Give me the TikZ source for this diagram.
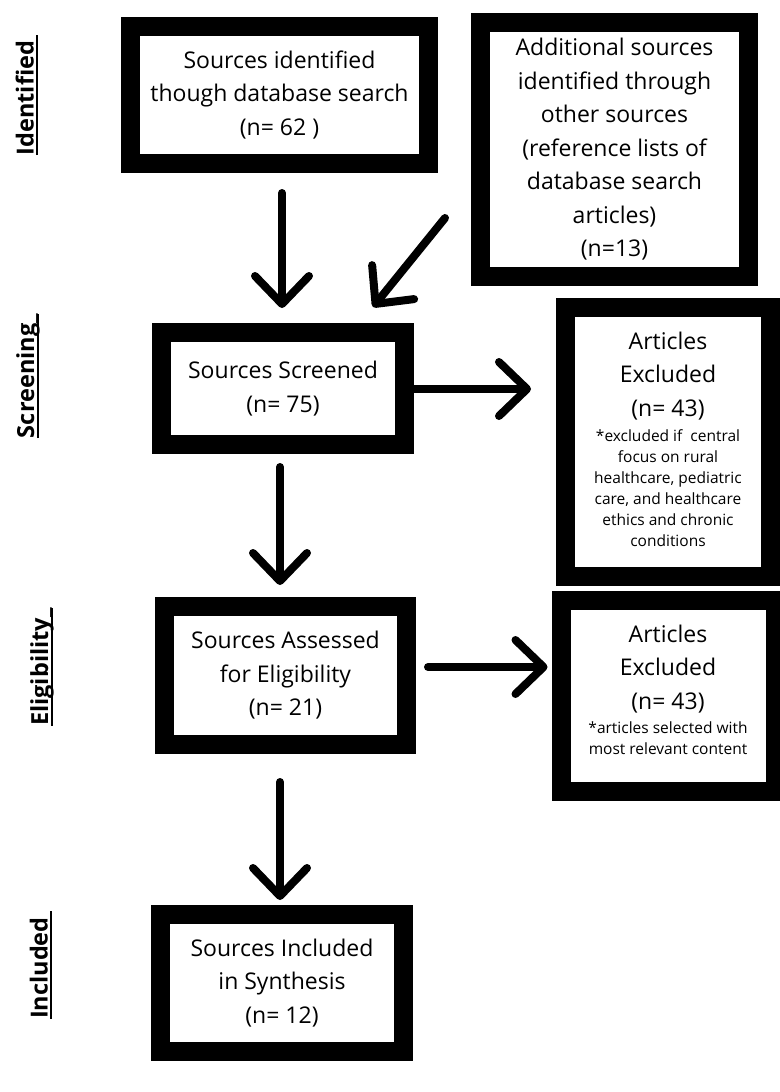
\documentclass[tikz,border=0pt]{standalone}
\usepackage{fontspec}
\setmainfont{Open Sans}
\usetikzlibrary{arrows.meta}
\newcommand\labul[1]{\setbox0\hbox{#1}\rlap{\rule[-4.5pt]{\wd0}{1.8pt}}\box0}
\begin{document}
\begin{tikzpicture}[x=1pt,y=-1pt,
  box/.style={draw=black, fill=white, line width=19pt, inner sep=0pt, outer sep=9.5pt, align=center, font=\fontsize{23}{33.5}\selectfont},
  arr/.style={line width=8pt, line cap=round, -{Straight Barb[length=28pt,width=54pt,round]}},
  maintext/.style={align=center, font=\fontsize{23}{33.5}\selectfont, inner sep=0pt},
  notetext/.style={align=center, font=\fontsize{15.5}{21}\selectfont, inner sep=0pt},
  lab/.style={rotate=90, font=\fontsize{23.5}{27}\selectfont\bfseries, inner sep=0pt}]
\useasboundingbox (0,0) rectangle (779,1092);
% boxes
\node[box, minimum width=298pt, minimum height=137pt] (b1) at (279.5,95) {Sources identified\\though database search\\(n= 62 )};
\node[box, minimum width=268pt, minimum height=254pt] (b2) at (614.5,149.5) {Additional sources\\identified through\\other sources\\(reference lists of\\database search\\articles)\\(n=13)};
\node[box, minimum width=243pt, minimum height=112pt] (b3) at (283,388.5) {Sources Screened\\(n= 75)};
\node[box, minimum width=205pt, minimum height=269pt] (b4) at (668,442) {};
\node[maintext] (t4) at (668,376) {Articles\\Excluded\\(n= 43)};
\node[notetext] (n4) at (668,488) {*excluded if\ \ central\\focus on rural\\healthcare, pediatric\\care, and healthcare\\ethics and chronic\\conditions};
\node[box, minimum width=242pt, minimum height=138pt] (b5) at (285.5,675.5) {Sources Assessed\\for Eligibility\\(n= 21)};
\node[box, minimum width=214pt, minimum height=191pt] (b6) at (668,696) {};
\node[maintext] (t6) at (668,669) {Articles\\Excluded\\(n= 43)};
\node[notetext] (n6) at (668,738.5) {*articles selected with\\most relevant content};
\node[box, minimum width=243pt, minimum height=137pt] (b7) at (282,983) {Sources Included\\in Synthesis\\(n= 12)};
% side labels
\node[lab] (l1) at (27,95) {\labul{Identified }};
\node[lab] (l2) at (28,376) {\labul{Screening\_}};
\node[lab] (l3) at (42,667) {\labul{Eligibility\_}};
\node[lab] (l4) at (41,965) {\labul{Included }};
% arrows
\draw[arr] ([shift={(2.5,20)}]b1.south) -- ([shift={(-1,-15)}]b3.north);
\draw[arr] ([shift={(-26,-68)}]b2.south west) -- ([shift={(90,-16)}]b3.north);
\draw[arr] ([shift={(0,0.5)}]b3.east) -- ([shift={(-25,-53)}]b4.west);
\draw[arr] ([shift={(12,-8.5)}]b5.east) -- ([shift={(-4,-29)}]b6.west);
\draw[arr] ([shift={(-3,13)}]b3.south) -- ([shift={(-5.5,-12)}]b5.north);
\draw[arr] ([shift={(-5.5,28)}]b5.south) -- ([shift={(-2,-5)}]b7.north);
\end{tikzpicture}
\end{document}
